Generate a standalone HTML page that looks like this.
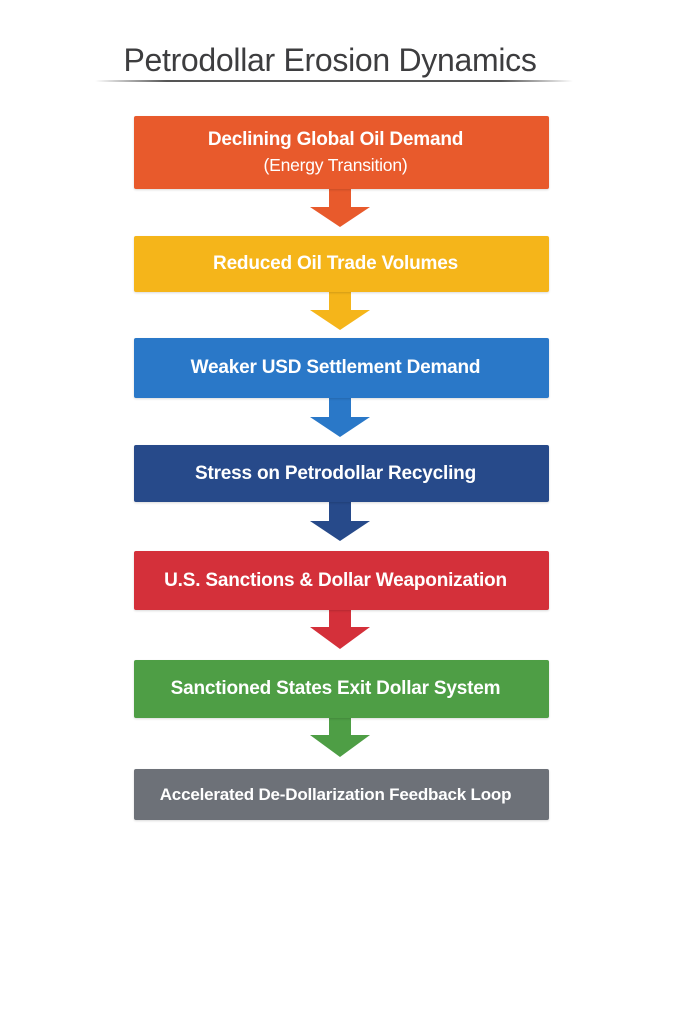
<!DOCTYPE html>
<html><head><style>
body{margin:0;width:683px;height:1024px;background:#fff;position:relative;font-family:"Liberation Sans Narrow","Liberation Sans",sans-serif;overflow:hidden}
.t{position:absolute;left:0;width:660px;top:42px;text-align:center;font-size:32px;color:#3d3d3f;letter-spacing:-0.3px}
.b{position:absolute;left:134px;width:403px;padding-right:12px;color:#fff;font-weight:bold;font-size:19px;letter-spacing:-0.2px;display:flex;flex-direction:column;align-items:center;justify-content:center;border-radius:2px;box-shadow:0 1px 2px rgba(0,0,0,.15)}
.s{font-weight:normal;font-size:17.5px;margin-top:4px}
</style></head><body>
<div class="t">Petrodollar Erosion Dynamics</div>
<svg width="683" height="1024" style="position:absolute;left:0;top:0">
<defs><linearGradient id="g" x1="0" x2="1"><stop offset="0" stop-color="#555" stop-opacity="0"/><stop offset=".15" stop-color="#555"/><stop offset=".85" stop-color="#555"/><stop offset="1" stop-color="#555" stop-opacity="0"/></linearGradient></defs>
<rect x="95" y="80" width="478" height="2" fill="url(#g)"/>
<polygon points="329,189 351,189 351,207 370,207 340,227 310,207 329,207" fill="#e85a2c"/>
<polygon points="329,292 351,292 351,310 370,310 340,330 310,310 329,310" fill="#f5b51a"/>
<polygon points="329,398 351,398 351,417 370,417 340,437 310,417 329,417" fill="#2a78c8"/>
<polygon points="329,502 351,502 351,521 370,521 340,541 310,521 329,521" fill="#274a8a"/>
<polygon points="329,610 351,610 351,627 370,627 340,649 310,627 329,627" fill="#d4303a"/>
<polygon points="329,718 351,718 351,735 370,735 340,757 310,735 329,735" fill="#4e9e45"/>
</svg>
<div class="b" style="top:116px;height:73px;background:#e85a2c">Declining Global Oil Demand<span class="s">(Energy Transition)</span></div>
<div class="b" style="top:236px;height:56px;background:#f5b51a">Reduced Oil Trade Volumes</div>
<div class="b" style="top:338px;height:60px;background:#2a78c8">Weaker USD Settlement Demand</div>
<div class="b" style="top:445px;height:57px;background:#274a8a">Stress on Petrodollar Recycling</div>
<div class="b" style="top:551px;height:59px;background:#d4303a">U.S. Sanctions &amp; Dollar Weaponization</div>
<div class="b" style="top:660px;height:58px;background:#4e9e45">Sanctioned States Exit Dollar System</div>
<div class="b" style="top:769px;height:51px;background:#6d7178;font-size:17px">Accelerated De-Dollarization Feedback Loop</div>
</body></html>
